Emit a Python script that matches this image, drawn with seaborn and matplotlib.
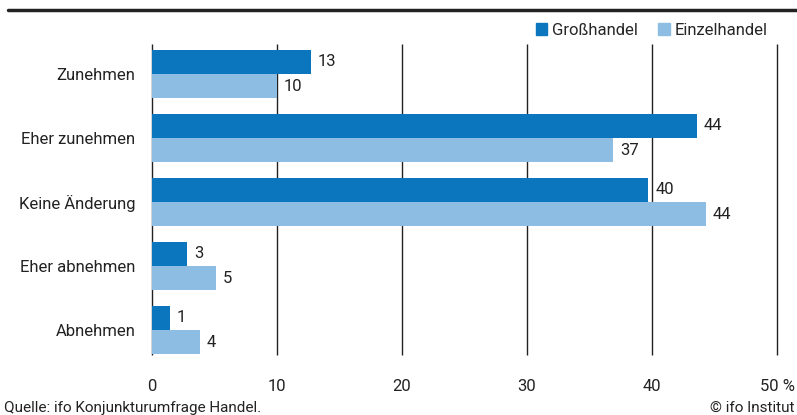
import pandas as pd
import matplotlib.pyplot as plt
from matplotlib.patches import Patch
import seaborn as sns

# data
categories = ["Zunehmen", "Eher zunehmen", "Keine Änderung", "Eher abnehmen", "Abnehmen"]
gross = [12.7, 43.6, 39.7, 2.8, 1.4]
einzel = [10.0, 36.9, 44.3, 5.1, 3.8]
gross_labels = [13, 44, 40, 3, 1]
einzel_labels = [10, 37, 44, 5, 4]
xticks = [0, 10, 20, 30, 40, 50]
xtick_labels = ["0", "10", "20", "30", "40", "50 %"]
colors = ["#0b76bd", "#8dbde3"]

df = pd.DataFrame({
    "Kategorie": categories * 2,
    "Wert": gross + einzel,
    "Serie": ["Großhandel"] * 5 + ["Einzelhandel"] * 5,
})

sns.set_style("white")
plt.rcParams["font.family"] = ["Roboto", "DejaVu Sans"]
plt.rcParams["font.size"] = 12

fig = plt.figure(figsize=(7.97, 4.15), dpi=100)
ax = fig.add_axes([152 / 797, 60 / 415, 625 / 797, 311 / 415])

sns.barplot(data=df, y="Kategorie", x="Wert", hue="Serie", orient="h",
            palette=colors, width=0.76, ax=ax, legend=False,
            saturation=1, linewidth=0, zorder=3)

# value labels
for cont, labels in zip(ax.containers, [gross_labels, einzel_labels]):
    ax.bar_label(cont, labels=labels, padding=5, fontsize=12, color="#222222")

ax.set_xlim(0, 50)
ax.set_ylim(4.39, -0.47)
ax.set_xticks(xticks)
ax.set_xticklabels(xtick_labels)
ax.vlines(xticks, 0, 1, transform=ax.get_xaxis_transform(), color="#222222",
          linewidth=1, zorder=1, clip_on=False)
ax.tick_params(axis="both", length=0, labelsize=12, colors="#222222")
ax.tick_params(axis="x", pad=17)
ax.tick_params(axis="y", pad=12)
ax.set_xlabel("")
ax.set_ylabel("")
for s in ax.spines.values():
    s.set_visible(False)

handles = [Patch(color=c, label=l) for c, l in zip(colors, ["Großhandel", "Einzelhandel"])]
fig.legend(handles=handles, ncol=2, loc="upper right", bbox_to_anchor=(768 / 797, 1 - 23 / 415),
           frameon=False, handlelength=0.7, handleheight=0.7, handletextpad=0.3,
           columnspacing=1.2, fontsize=12, borderpad=0, borderaxespad=0)

# top rule and footer
fig.add_artist(plt.Line2D([8 / 797, 1], [1 - 10 / 415, 1 - 10 / 415], color="#222222", linewidth=2.5))
fig.text(4 / 797, 3 / 415, "Quelle: ifo Konjunkturumfrage Handel.", fontsize=11, color="#222222")
fig.text(795 / 797, 3 / 415, "© ifo Institut", fontsize=11, ha="right", color="#222222")

fig.savefig("out.png", dpi=100)
